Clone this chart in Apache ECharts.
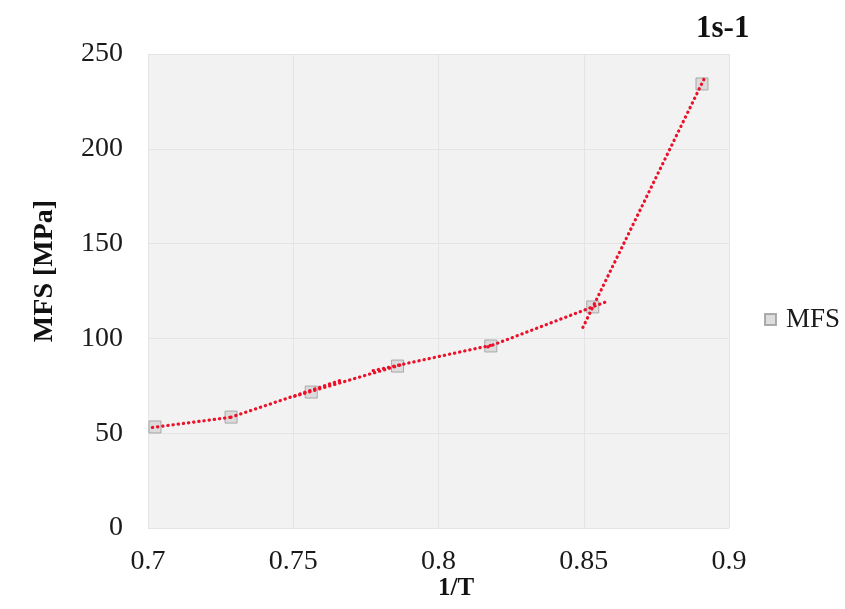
<!DOCTYPE html>
<html>
<head>
<meta charset="utf-8">
<script src="https://cdn.jsdelivr.net/npm/echarts@6/dist/echarts.min.js"></script>
<style>
html,body{margin:0;padding:0;background:#fff;}
#chart{width:845px;height:609px;}
</style>
</head>
<body>
<div id="chart"></div>
<script>
// Data
var invT = [0.7024, 0.7286, 0.7562, 0.7859, 0.8180, 0.8531, 0.8907];
var mfs = [53.3, 58.5, 71.7, 85.4, 96.0, 116.6, 234.2];
// Trendline segments: start and end points
var trendStartX = [0.7015, 0.7285, 0.7505, 0.7775, 0.8170, 0.8497];
var trendStartY = [53.0, 58.4, 69.5, 83.0, 95.5, 105.8];
var trendEndX   = [0.7295, 0.7665, 0.7870, 0.8185, 0.8580, 0.8914];
var trendEndY   = [58.6, 78.0, 86.0, 96.5, 119.5, 236.8];
var xTicks = [0.7, 0.75, 0.8, 0.85, 0.9];
var yTicks = [0, 50, 100, 150, 200, 250];

var serif = '"Liberation Serif", "Times New Roman", serif';
var chart = echarts.init(document.getElementById('chart'));

var series = [{
  name: 'MFS',
  type: 'scatter',
  data: invT.map(function (x, i) { return [x, mfs[i]]; }),
  symbol: 'rect',
  symbolSize: 12,
  itemStyle: { color: '#d4d4d4', borderColor: '#9a9a9a', borderWidth: 1 },
  z: 2
}];
for (var i = 0; i < trendStartX.length; i++) {
  series.push({
    name: 'trend' + i,
    type: 'line',
    data: [[trendStartX[i], trendStartY[i]], [trendEndX[i], trendEndY[i]]],
    showSymbol: false,
    symbol: 'none',
    silent: true,
    lineStyle: { color: '#ec1028', width: 3.2, type: [0.3, 4.9], cap: 'round' },
    z: 3
  });
}

chart.setOption({
  animation: false,
  backgroundColor: '#ffffff',
  grid: {
    left: 148, top: 54, width: 581, height: 474,
    show: true, backgroundColor: '#f2f2f2', borderWidth: 0
  },
  legend: {
    data: ['MFS'],
    left: 759, top: 301,
    itemWidth: 11, itemHeight: 11, itemGap: 6,
    textStyle: { fontFamily: serif, fontSize: 27, color: '#1a1a1a', padding: [0, 0, 0, 5] }
  },
  xAxis: {
    type: 'value',
    min: xTicks[0], max: xTicks[xTicks.length - 1], interval: 0.05,
    axisLine: { show: false }, axisTick: { show: false },
    splitLine: { show: true, lineStyle: { color: '#e4e4e4', width: 1 } },
    axisLabel: { fontFamily: serif, fontSize: 28, color: '#1a1a1a', margin: 20 }
  },
  yAxis: {
    type: 'value',
    min: yTicks[0], max: yTicks[yTicks.length - 1], interval: 50,
    axisLine: { show: false }, axisTick: { show: false },
    splitLine: { show: true, lineStyle: { color: '#e4e4e4', width: 1 } },
    axisLabel: { fontFamily: serif, fontSize: 28, color: '#1a1a1a', margin: 25 }
  },
  graphic: [
    { type: 'text', left: 696, top: 13,
      style: { text: '1s-1', fontFamily: serif, fontWeight: 'bold', fontSize: 31, fill: '#111' } },
    { type: 'text', x: 456, y: 589,
      style: { text: '1/T', fontFamily: serif, fontWeight: 'bold', fontSize: 25, fill: '#111', textAlign: 'center', textVerticalAlign: 'middle' } },
    { type: 'text', x: 45, y: 271, rotation: Math.PI / 2,
      style: { text: 'MFS [MPa]', fontFamily: serif, fontWeight: 'bold', fontSize: 28, fill: '#111', textAlign: 'center', textVerticalAlign: 'middle' } }
  ],
  series: series
});
</script>
</body>
</html>
